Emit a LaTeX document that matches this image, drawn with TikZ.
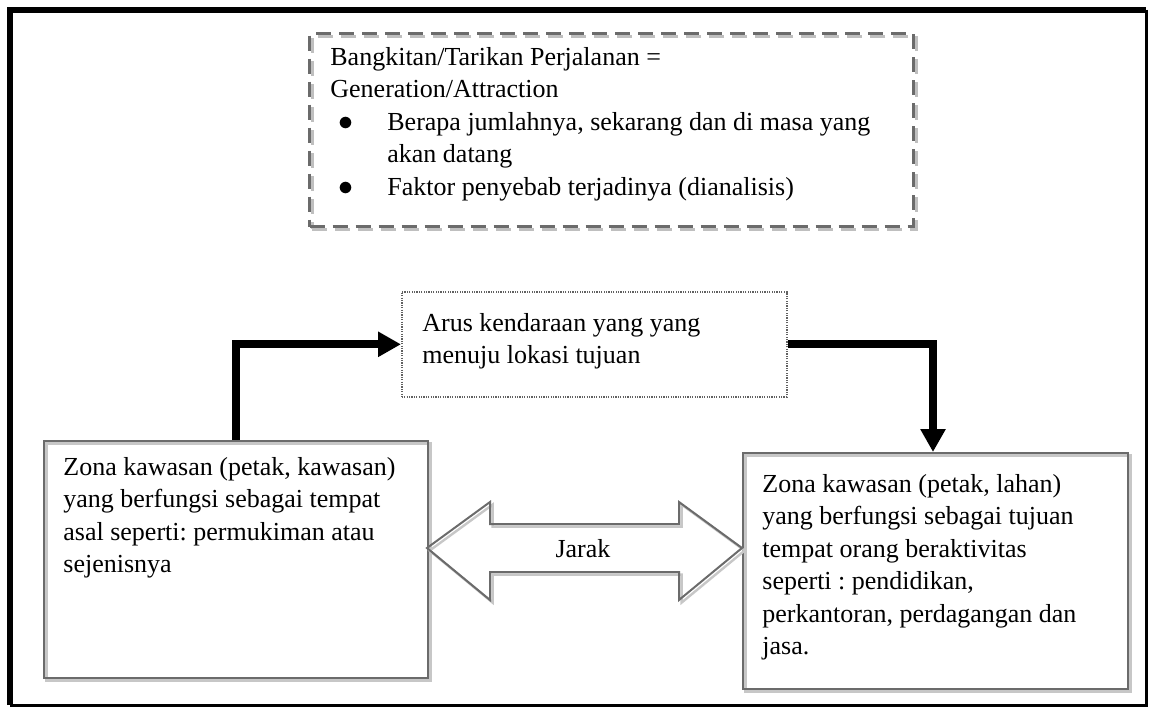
\documentclass[tikz,border=0pt]{standalone}
\usepackage{fontspec}
\setmainfont{Liberation Serif}
\usetikzlibrary{arrows.meta}
\frenchspacing

\tikzset{
	kotak/.style={draw=black!58, line width=1pt, anchor=north west, inner sep=0pt,
		preaction={draw=black!22, line width=1.2pt, transform canvas={shift={(1.3pt,-1.3pt)}}}},
	putus/.style={draw=black!58, line width=1.5pt, dash pattern=on 7.5pt off 4pt, anchor=north west, inner sep=0pt,
		preaction={draw=black!25, transform canvas={shift={(1.3pt,-1.3pt)}}}},
	titik/.style={draw=black!62, line width=0.8pt, dash pattern=on 0.6pt off 0.6pt, anchor=north west, inner sep=0pt},
	isi/.style={anchor=north west, inner sep=0pt, align=left},
	alur/.style={line width=4pt, -{Triangle[length=11.5pt,width=12pt]}},
}
\newcommand{\butir}{\makebox[28.5pt][l]{\hspace{4.2pt}\smash{\scalebox{1.25}{$\bullet$}}}}

\begin{document}
\begin{tikzpicture}[x=0.5pt, y=-0.5pt, font=\fontsize{13}{16.2}\selectfont]
			\useasboundingbox (0,0) rectangle (1151,707);

			%%outer frame
			\draw[line width=3pt] (10,705) to (10,9.5) to (1146,9.5);
			\draw[line width=1.5pt] (1146,9.5) to (1146,705) to (10,705);

			%%generation / attraction box
			\node[putus, minimum width=302pt, minimum height=96.5pt] (bangkitan) at (308,32) {};
				\node[isi] (bangkitanteks) at (330,47) {Bangkitan/Tarikan Perjalanan =\\
					Generation/Attraction\\
					\butir Berapa jumlahnya, sekarang dan di masa yang\\
					\hspace*{28.5pt}akan datang\\
					\butir Faktor penyebab terjadinya (dianalisis)};

			%%flow box
			\node[titik, minimum width=192.5pt, minimum height=52.5pt] (arus) at (401,291) {};
				\node[isi] (arusteks) at (422,313) {Arus kendaraan yang yang\\menuju lokasi tujuan};

			%%origin zone
			\node[kotak, minimum width=192pt, minimum height=118.5pt] (asal) at (43,440) {};
				\node[isi] (asalteks) at (63,457) {Zona kawasan (petak, kawasan)\\
					yang berfungsi sebagai tempat\\
					asal seperti: permukiman atau\\
					sejenisnya};

			%%destination zone
			\node[kotak, minimum width=192.5pt, minimum height=118pt] (tujuan) at (742,452) {};
				\node[isi] (tujuanteks) at (762,474) {Zona kawasan (petak, lahan)\\
					yang berfungsi sebagai tujuan\\
					tempat orang beraktivitas\\
					seperti : pendidikan,\\
					perkantoran, perdagangan dan\\
					jasa.};

			%%the routes
			\draw[alur] ([xshift=96.5pt]asal.north west) |- (arus.west);
			\draw[alur] (arus.east) -| ([xshift=95.5pt]tujuan.north west);

			%%distance arrow
			\draw[draw=black!58, line width=1pt, preaction={draw=black!22, line width=1.2pt, transform canvas={shift={(1.3pt,-1.3pt)}}}]
				(427,548) to (490,502) to (490,524) to (679,524) to (679,502) to (742,548)
				to (679,600) to (679,572) to (490,572) to (490,600) to cycle;
				\node (jarak) at (583,549) {Jarak};
\end{tikzpicture}
\end{document}
